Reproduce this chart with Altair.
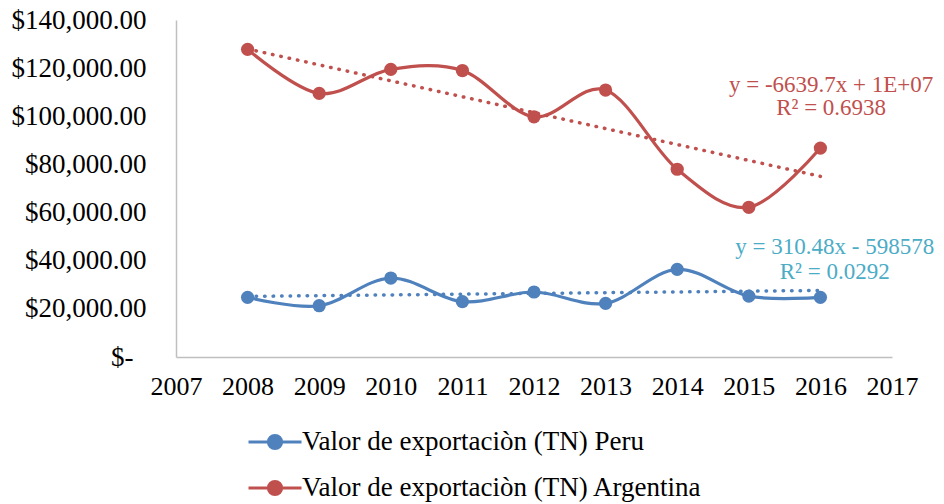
import altair as alt
import pandas as pd

years = [2008, 2009, 2010, 2011, 2012, 2013, 2014, 2015, 2016]
peru = [24800, 21300, 32800, 23000, 27000, 22300, 36400, 25300, 24800]
argentina = [127800, 109500, 119500, 119000, 99800, 110900, 78000, 62200, 86800]
series_names = ["Valor de exportaciòn (TN) Peru", "Valor de exportaciòn (TN) Argentina"]
series_colors = ["#4F81BD", "#C0504D"]
x_ticks = list(range(2007, 2018))
y_ticks = list(range(0, 140001, 20000))
eq_peru = "y = 310.48x - 598578\nR² = 0.0292"
eq_arg = "y = -6639.7x + 1E+07\nR² = 0.6938"
eq_colors = ["#4BACC6", "#C0504D"]

rows = []
for name, vals in zip(series_names, [peru, argentina]):
    for yr, v in zip(years, vals):
        rows.append({"year": yr, "value": v, "series": name})
df = pd.DataFrame(rows)

FONT = "Liberation Serif"

legend_path = ("M-2,0L2,0M0.5,0A0.5,0.5 0 1,1 -0.5,0"
               "A0.5,0.5 0 1,1 0.5,0Z")
legend = alt.Legend(
    orient="none", legendX=84, legendY=407, direction="vertical", title=None,
    symbolType=legend_path, symbolSize=702, symbolStrokeWidth=3, symbolOpacity=1,
    labelFont=FONT, labelFontSize=27, labelColor="black", labelOffset=12,
    labelLimit=0, rowPadding=18,
)

color = alt.Color("series:N", scale=alt.Scale(domain=series_names, range=series_colors),
                  legend=legend)

x = alt.X("year:Q", scale=alt.Scale(domain=[2007, 2017], nice=False, zero=False),
          axis=alt.Axis(values=x_ticks, format="d", title=None, grid=False, ticks=False,
                        labelPadding=16, domainColor="#BFBFBF", domainWidth=1.5,
                        labelFont=FONT, labelFontSize=26, labelColor="black",
                        labelFlush=False, labelOverlap=False))
y = alt.Y("value:Q", scale=alt.Scale(domain=[0, 140000], nice=False),
          axis=alt.Axis(values=y_ticks, title=None, grid=False, ticks=False,
                        labelExpr="datum.value == 0 ? '$-' : '$' + format(datum.value, ',.2f')",
                        labelPadding={"condition": {"test": "datum.value == 0", "value": 43}, "value": 30},
                        domainColor="#BFBFBF", domainWidth=1.5,
                        labelFont=FONT, labelFontSize=27, labelColor="black",
                        labelFlush=False, labelOverlap=False))

base = alt.Chart(df)

lines = base.mark_line(interpolate="cardinal", strokeWidth=3.2).encode(x=x, y=y, color=color)
points = base.mark_circle(size=175, opacity=1).encode(x=x, y=y, color=color)
trend = base.transform_regression("year", "value", groupby=["series"], extent=[2008, 2016]).mark_line(
    strokeDash=[0.5, 8], strokeCap="round", strokeWidth=3.5).encode(x=x, y=y, color=color)

ann_arg = alt.Chart(pd.DataFrame({"t": [eq_arg]})).mark_text(
    font=FONT, fontSize=23, color=eq_colors[1], align="center", baseline="middle",
    lineBreak="\n", lineHeight=23).encode(
    x=alt.datum(2016.15), y=alt.datum(113000), text="t:N")
ann_peru = alt.Chart(pd.DataFrame({"t": [eq_peru]})).mark_text(
    font=FONT, fontSize=23, color=eq_colors[0], align="center", baseline="middle",
    lineBreak="\n", lineHeight=25).encode(
    x=alt.datum(2016.2), y=alt.datum(45700), text="t:N")

chart = alt.layer(trend, lines, points, ann_arg, ann_peru).properties(
    width=716, height=337,
    padding={"left": 168, "top": 12, "right": 44, "bottom": 147},
    autosize=alt.AutoSizeParams(type="none"),
    background="white",
).configure_view(stroke=None)

chart.save("out.html", embed_options={"renderer": "svg", "actions": False})
